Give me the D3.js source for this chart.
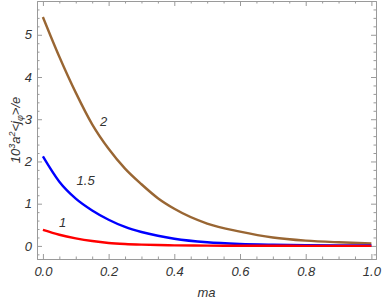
<!DOCTYPE html>
<html>
<head>
<meta charset="utf-8">
<script src="https://cdn.jsdelivr.net/npm/d3@7"></script>
<style>
  body { margin: 0; background: #fff; }
  svg { display: block; font-family: "Liberation Sans", Arial, sans-serif; font-style: italic; }
</style>
</head>
<body>
<svg id="chart" width="382" height="300"></svg>
<script>
const ma = [0, 0.05, 0.1, 0.15, 0.2, 0.25, 0.3, 0.35, 0.4, 0.5, 0.6, 0.7, 0.8, 0.9, 1.0];
const curve2 = [5.42, 4.48, 3.63, 2.88, 2.3, 1.83, 1.46, 1.13, 0.88, 0.53, 0.34, 0.2, 0.125, 0.085, 0.058];
const curve15 = [2.12, 1.52, 1.12, 0.84, 0.62, 0.45, 0.33, 0.24, 0.17, 0.085, 0.045, 0.027, 0.017, 0.012, 0.01];
const curve1 = [0.38, 0.265, 0.18, 0.115, 0.07, 0.045, 0.03, 0.02, 0.013, 0.007, 0.004, 0.003, 0.002, 0.002, 0.002];
const seriesNames = ["2", "1.5", "1"];
const seriesColors = ["#996633", "#0000ff", "#ff0000"];
const labelPos = [[0.185, 2.95], [0.13, 1.55], [0.06, 0.55]];   // [ma, value] where the label sits
const xTicks = [0, 0.2, 0.4, 0.6, 0.8, 1.0];
const yTicks = [0, 1, 2, 3, 4, 5];

const svg = d3.select("#chart");
const frame = { left: 37, right: 376, top: 1, bottom: 259 };

const x = d3.scaleLinear().domain([-0.018, 1.014]).range([frame.left, frame.right]);
const y = d3.scaleLinear().domain([-0.31, 5.8]).range([frame.bottom, frame.top]);

const xMinor = d3.range(0, 1.0001, 0.05).filter(v => Math.abs(v * 5 - Math.round(v * 5)) > 1e-6);
const yMinor = d3.range(-0.2, 5.8, 0.2).filter(v => Math.abs(v - Math.round(v)) > 1e-6);

const frameColor = "#9a9a9a";
const textColor = "#333";

function styleAxis(g) {
  g.select(".domain").attr("stroke", frameColor);
  g.selectAll(".tick line").attr("stroke", frameColor);
  g.selectAll("text").attr("fill", textColor).style("font-size", "13px");
}

// bottom
svg.append("g")
  .attr("transform", `translate(0,${frame.bottom})`)
  .call(d3.axisBottom(x).tickValues(xTicks).tickFormat(d3.format(".1f")).tickSize(-5).tickSizeOuter(0).tickPadding(8))
  .call(styleAxis);
svg.append("g")
  .attr("transform", `translate(0,${frame.bottom})`)
  .call(d3.axisBottom(x).tickValues(xMinor).tickFormat("").tickSize(-2.5).tickSizeOuter(0))
  .call(styleAxis);
// top
svg.append("g")
  .attr("transform", `translate(0,${frame.top})`)
  .call(d3.axisTop(x).tickValues(xTicks).tickFormat("").tickSize(-5).tickSizeOuter(0))
  .call(styleAxis);
svg.append("g")
  .attr("transform", `translate(0,${frame.top})`)
  .call(d3.axisTop(x).tickValues(xMinor).tickFormat("").tickSize(-2.5).tickSizeOuter(0))
  .call(styleAxis);
// left
svg.append("g")
  .attr("transform", `translate(${frame.left},0)`)
  .call(d3.axisLeft(y).tickValues(yTicks).tickFormat(d3.format("d")).tickSize(-5).tickSizeOuter(0).tickPadding(5))
  .call(styleAxis);
svg.append("g")
  .attr("transform", `translate(${frame.left},0)`)
  .call(d3.axisLeft(y).tickValues(yMinor).tickFormat("").tickSize(-2.5).tickSizeOuter(0))
  .call(styleAxis);
// right
svg.append("g")
  .attr("transform", `translate(${frame.right},0)`)
  .call(d3.axisRight(y).tickValues(yTicks).tickFormat("").tickSize(-5).tickSizeOuter(0))
  .call(styleAxis);
svg.append("g")
  .attr("transform", `translate(${frame.right},0)`)
  .call(d3.axisRight(y).tickValues(yMinor).tickFormat("").tickSize(-2.5).tickSizeOuter(0))
  .call(styleAxis);

// curves
const line = d3.line()
  .x(d => x(d[0]))
  .y(d => y(d[1]))
  .curve(d3.curveMonotoneX);

[curve2, curve15, curve1].forEach((vals, i) => {
  svg.append("path")
    .datum(ma.map((m, j) => [m, vals[j]]))
    .attr("fill", "none")
    .attr("stroke", seriesColors[i])
    .attr("stroke-width", 2.4)
    .attr("d", line);

  svg.append("text")
    .attr("x", x(labelPos[i][0]))
    .attr("y", y(labelPos[i][1]))
    .attr("text-anchor", "middle")
    .attr("dy", "0.35em")
    .attr("fill", textColor)
    .style("font-size", "13px")
    .text(seriesNames[i]);
});

// axis labels
svg.append("text")
  .attr("x", (frame.left + frame.right) / 2)
  .attr("y", 297)
  .attr("text-anchor", "middle")
  .attr("fill", textColor)
  .style("font-size", "13px")
  .text("ma");

const yLab = svg.append("text")
  .attr("transform", `translate(20,${(frame.top + frame.bottom) / 2}) rotate(-90)`)
  .attr("text-anchor", "middle")
  .attr("fill", textColor)
  .style("font-size", "13px");
yLab.append("tspan").text("10");
yLab.append("tspan").attr("dy", "-5").style("font-size", "9px").text("3");
yLab.append("tspan").attr("dy", "5").text("a");
yLab.append("tspan").attr("dy", "-5").style("font-size", "9px").text("2");
yLab.append("tspan").attr("dy", "5").text("<j");
yLab.append("tspan").attr("dy", "3").style("font-size", "9px").text("φ");
yLab.append("tspan").attr("dy", "-3").text(">/e");
</script>
</body>
</html>
